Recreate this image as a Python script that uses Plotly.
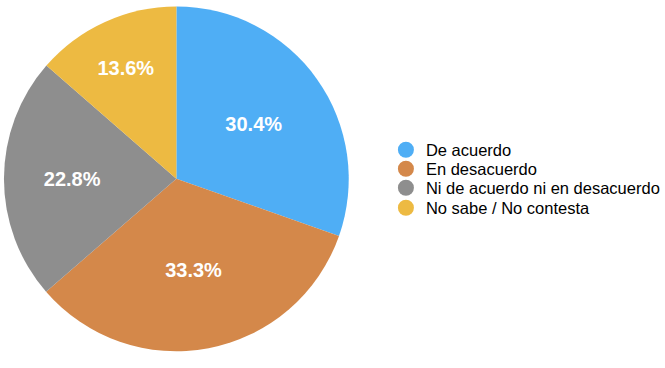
import plotly.graph_objects as go

labels = ["De acuerdo", "En desacuerdo", "Ni de acuerdo ni en desacuerdo", "No sabe / No contesta"]
values = [30.4, 33.3, 22.8, 13.6]
colors = ["#4FAEF5", "#D4884A", "#8E8E8E", "#EDBA42"]

fig = go.Figure()
fig.add_trace(go.Pie(
    labels=labels, values=values, sort=False, direction="clockwise", rotation=0,
    marker=dict(colors=colors, line=dict(width=0)),
    texttemplate="<b>%{value:.1f}%</b>", textposition="inside",
    insidetextfont=dict(color="white", size=20, family="Liberation Sans"),
    insidetextorientation="horizontal",
    showlegend=False, hoverinfo="label+percent",
    domain=dict(x=[0.006, 0.53], y=[0.04, 0.988]),
))

legend_layouts = {}
legend_y = [150, 169, 188, 208]  # pixel rows of legend entries
for i, (lab, col) in enumerate(zip(labels, colors)):
    lname = "legend" if i == 0 else f"legend{i+1}"
    fig.add_trace(go.Scatter(x=[None], y=[None], mode="markers", name=lab,
                             legend=lname,
                             marker=dict(symbol="circle", size=16, color=col)))
    legend_layouts[lname] = dict(
        x=0.5865, y=1 - legend_y[i] / 368, xanchor="left", yanchor="middle",
        font=dict(size=16.5, family="Liberation Sans", color="black"),
        itemsizing="trace", bgcolor="rgba(0,0,0,0)", borderwidth=0)

fig.update_layout(
    width=665, height=368, margin=dict(l=0, r=0, t=0, b=0),
    paper_bgcolor="white", plot_bgcolor="white",
    xaxis=dict(visible=False), yaxis=dict(visible=False),
    **legend_layouts,
)
fig.write_html("out.html", config={"displayModeBar": False},
               post_script="document.body.style.margin='0';")
